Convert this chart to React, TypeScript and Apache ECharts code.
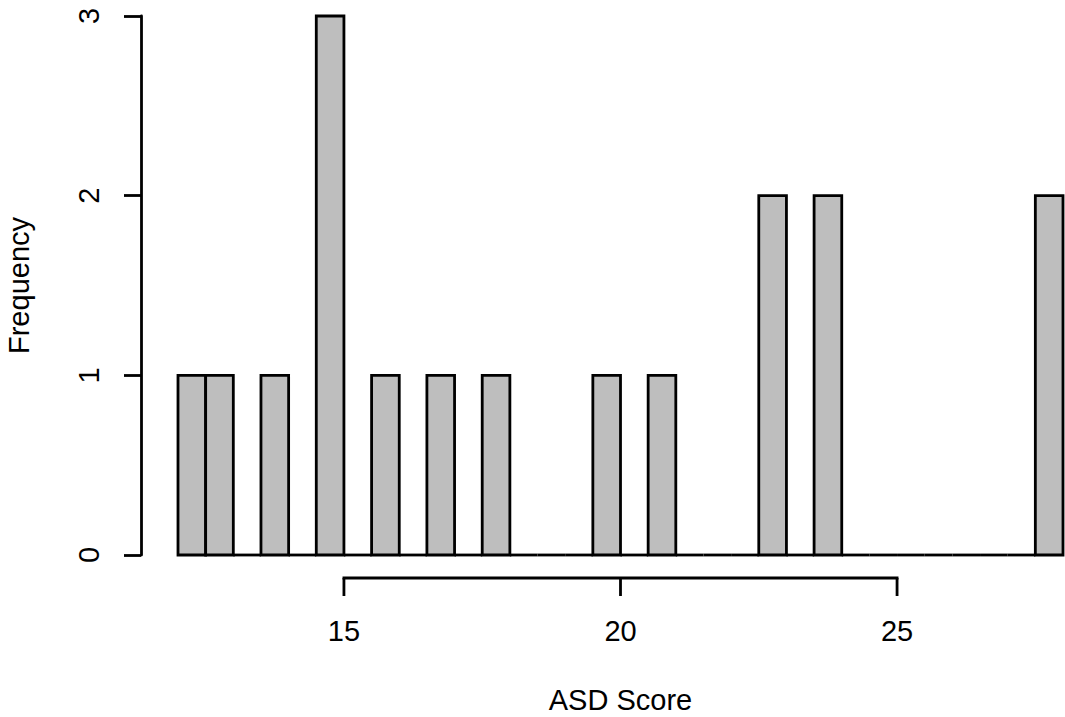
import React, { useEffect, useRef } from "react";
import * as echarts from "echarts";

// Histogram bins (start of each bin) and counts
const binWidth = 0.5;
const binStarts = [
  12.0, 12.5, 13.0, 13.5, 14.0, 14.5, 15.0, 15.5, 16.0, 16.5, 17.0, 17.5,
  18.0, 18.5, 19.0, 19.5, 20.0, 20.5, 21.0, 21.5, 22.0, 22.5, 23.0, 23.5,
  24.0, 24.5, 25.0, 25.5, 26.0, 26.5, 27.0, 27.5,
];
const counts = [
  1, 1, 0, 1, 0, 3, 0, 1, 0, 1, 0, 1,
  0, 0, 0, 1, 0, 1, 0, 0, 0, 2, 0, 2,
  0, 0, 0, 0, 0, 0, 0, 2,
];
const xTicks = [15, 20, 25];
const yTicks = [0, 1, 2, 3];
const xTitle = "ASD Score";
const yTitle = "Frequency";

const FONT = "'Liberation Sans', Arial, sans-serif";
const FS = 29;
const LW = 2.8;
const X_OFFSET = 23;
const TICK_LEN = 18;

export default function App() {
  const ref = useRef<HTMLDivElement>(null);
  useEffect(() => {
    if (!ref.current) return;
    const chart = echarts.init(ref.current, null, { renderer: "svg" });
    const binData = binStarts.map((s, i) => [s, s + binWidth, counts[i]]);
    chart.setOption({
      animation: false,
      backgroundColor: "#ffffff",
      textStyle: { fontFamily: FONT, color: "#000" },
      grid: {
        left: 178,
        right: 2,
        top: 16,
        bottom: 162,
        containLabel: false,
        outerBoundsMode: "none",
      },
      xAxis: {
        type: "value",
        min: binStarts[0],
        max: binStarts[binStarts.length - 1] + binWidth,
        offset: X_OFFSET,
        axisLine: { show: false },
        splitLine: { show: false },
        axisTick: { show: false },
        axisLabel: {
          customValues: xTicks,
          margin: 53,
          verticalAlign: "middle",
          fontSize: FS,
          fontFamily: FONT,
          color: "#000",
        },
        name: xTitle,
        nameLocation: "middle",
        nameGap: 122,
        nameTextStyle: {
          fontSize: FS,
          fontFamily: FONT,
          color: "#000",
          verticalAlign: "middle",
        },
      },
      yAxis: {
        type: "value",
        min: yTicks[0],
        max: yTicks[yTicks.length - 1],
        interval: 1,
        offset: 37,
        axisLine: { show: true, lineStyle: { color: "#000", width: LW } },
        splitLine: { show: false },
        axisTick: {
          show: true,
          length: 17,
          lineStyle: { color: "#000", width: LW },
        },
        axisLabel: {
          rotate: 90,
          margin: 52,
          align: "center",
          verticalAlign: "middle",
          fontSize: FS,
          fontFamily: FONT,
          color: "#000",
        },
        name: yTitle,
        nameLocation: "middle",
        nameRotate: 90,
        nameGap: 122,
        nameTextStyle: {
          fontSize: FS,
          fontFamily: FONT,
          color: "#000",
          verticalAlign: "middle",
        },
      },
      series: [
        {
          type: "custom",
          data: binData,
          encode: { x: [0, 1], y: 2 },
          clip: false,
          renderItem: (params: any, api: any) => {
            const s = api.value(0);
            const e = api.value(1);
            const c = api.value(2);
            const p0 = api.coord([s, c]);
            const p1 = api.coord([e, 0]);
            if (c === 0) {
              return {
                type: "line",
                shape: { x1: p0[0], y1: p1[1], x2: p1[0], y2: p1[1] },
                style: { stroke: "#000", lineWidth: LW },
              };
            }
            return {
              type: "rect",
              shape: {
                x: p0[0],
                y: p0[1],
                width: p1[0] - p0[0],
                height: p1[1] - p0[1],
              },
              style: { fill: "#BEBEBE", stroke: "#000", lineWidth: LW },
            };
          },
        },
        {
          type: "custom",
          data: [[xTicks[0], xTicks[xTicks.length - 1]]],
          encode: { x: [0, 1] },
          clip: false,
          silent: true,
          renderItem: (params: any, api: any) => {
            const a = api.coord([api.value(0), 0]);
            const b = api.coord([api.value(1), 0]);
            return {
              type: "line",
              shape: {
                x1: a[0] - LW / 2,
                y1: a[1] + X_OFFSET,
                x2: b[0] + LW / 2,
                y2: b[1] + X_OFFSET,
              },
              style: { stroke: "#000", lineWidth: LW },
            };
          },
        },
        {
          type: "custom",
          data: xTicks.map((t) => [t]),
          encode: { x: 0 },
          clip: false,
          silent: true,
          renderItem: (params: any, api: any) => {
            const a = api.coord([api.value(0), 0]);
            return {
              type: "line",
              shape: {
                x1: a[0],
                y1: a[1] + X_OFFSET,
                x2: a[0],
                y2: a[1] + X_OFFSET + TICK_LEN,
              },
              style: { stroke: "#000", lineWidth: LW },
            };
          },
        },
      ],
    });
    return () => chart.dispose();
  }, []);
  return (
    <div
      ref={ref}
      style={{ position: "fixed", left: 0, top: 0, width: 1065, height: 717 }}
    />
  );
}
